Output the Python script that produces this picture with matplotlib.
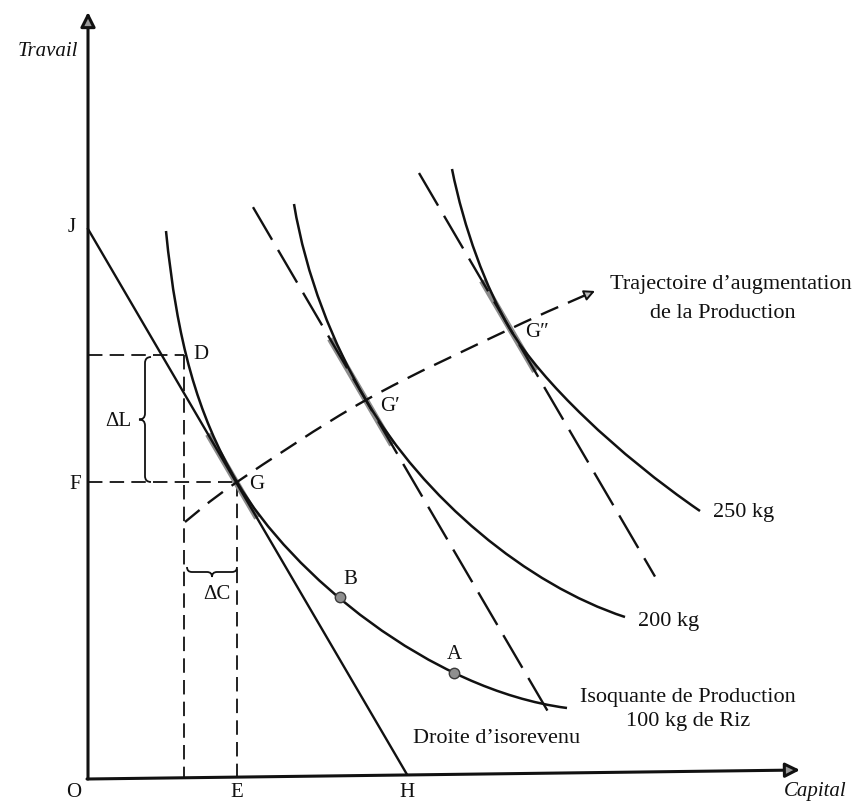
#!/usr/bin/env python3
"""
Isoquantes de production et droites d'isorevenu (schéma de manuel)
"""

import numpy as np
import matplotlib
matplotlib.use('Agg')
import matplotlib.pyplot as plt
from matplotlib.path import Path
from matplotlib.patches import PathPatch

BLACK = '#111111'
GRAY = '#8c8c8c'
FONT = ['Liberation Serif', 'DejaVu Serif']

# unités : Capital en x, Travail en y (origine O)
# isoquantes : 2 segments de Bézier cubiques (début, contrôle, contrôle,
# point de tangence, contrôle, contrôle, fin), lus sur le schéma
Q100_X = [78, 89, 109, 149, 203, 342, 479]
Q100_Y = [547, 437, 364, 296, 204, 88, 70]
Q200_X = [206, 218, 245, 278, 335, 439, 537]
Q200_Y = [574, 502, 434, 378, 280, 193, 161]
Q250_X = [364, 376, 398, 422, 453, 529, 612]
Q250_Y = [609, 549, 490, 449, 397, 324, 267]

# droites d'isorevenu (pente commune, ordonnée à l'origine, plage en x)
ISOREV_SLOPE = -1.71
ISOREV_ICPT = [549, 853, 1171]
ISOREV_XRANGE = [(0, 319), (165, 462), (331, 567)]
ISOREV_STYLE = ['solid', 'dashed', 'dashed']
# portion grisée autour du point de tangence
TANGENT_XRANGE = [(120, 169), (242, 304), (394, 447)]

# trajectoire d'augmentation de la production
PATH_X = [97, 149, 278, 422, 500]
PATH_Y = [256, 296, 378, 449, 484]
PATH_TIP = (507, 487)

# points de tangence et autres points
G_PT = (149, 296)
D_PT = (96, 423)
POINT_B = (252, 181)
POINT_A = (366, 105)

AXIS_X_END = (712, 8)
AXIS_Y_END = (0, 766)


def bezier_path(xs, ys):
    """Suite de segments de Bézier cubiques"""
    verts = np.column_stack([xs, ys]).astype(float)
    codes = [Path.MOVETO] + [Path.CURVE4] * (len(verts) - 1)
    return Path(verts, codes)


def smooth_path(xs, ys):
    """Courbe lisse (Catmull-Rom -> Bézier) passant par les points lus"""
    pts = np.column_stack([xs, ys]).astype(float)
    n = len(pts)
    verts = [pts[0]]
    codes = [Path.MOVETO]
    for i in range(n - 1):
        p0 = pts[max(i - 1, 0)]
        p1 = pts[i]
        p2 = pts[i + 1]
        p3 = pts[min(i + 2, n - 1)]
        verts += [p1 + (p2 - p0) / 6, p2 - (p3 - p1) / 6, p2]
        codes += [Path.CURVE4] * 3
    return Path(verts, codes)


def brace(ax, p0, p1, cusp, d=6, lw=1.3):
    """Accolade entre p0 et p1, pointe dans la direction cusp"""
    p0 = np.array(p0, float)
    p1 = np.array(p1, float)
    u = (p1 - p0) / np.linalg.norm(p1 - p0)
    c = np.array(cusp, float)
    pm = (p0 + p1) / 2
    verts = [p0 - c * d,
             p0, p0 + u * d,
             pm - u * d,
             pm, pm + c * d,
             pm, pm + u * d,
             p1 - u * d,
             p1, p1 - c * d]
    codes = [Path.MOVETO,
             Path.CURVE3, Path.CURVE3,
             Path.LINETO,
             Path.CURVE3, Path.CURVE3,
             Path.CURVE3, Path.CURVE3,
             Path.LINETO,
             Path.CURVE3, Path.CURVE3]
    ax.add_patch(PathPatch(Path(verts, codes), fill=False, lw=lw, edgecolor=BLACK))


def label(ax, x, y, s, size=15, **kw):
    ax.text(x, y, s, fontsize=size, family=FONT, color=BLACK,
            ha=kw.pop('ha', 'center'), va=kw.pop('va', 'center'), **kw)


fig = plt.figure(figsize=(8.59, 8.04), dpi=100)
fig.patch.set_facecolor('white')
ax = fig.add_axes([0, 0, 1, 1])
ax.set_xlim(-88, 771)
ax.set_ylim(-25, 779)
ax.axis('off')

# axes
arrow_kw = dict(arrowstyle='-|>', mutation_scale=22, lw=2.2,
                color=BLACK, fc='#9a9a9a', shrinkA=0, shrinkB=0)
ax.annotate('', xy=AXIS_Y_END, xytext=(0, -1), arrowprops=arrow_kw)
ax.annotate('', xy=AXIS_X_END, xytext=(-1, -1), arrowprops=arrow_kw)

# lignes de repère en tirets
guide = dict(color=BLACK, lw=1.3, linestyle=(0, (8, 4)))
ax.plot([0, D_PT[0]], [D_PT[1], D_PT[1]], **guide)
ax.plot([D_PT[0], D_PT[0]], [D_PT[1], 0], **guide)
ax.plot([0, G_PT[0]], [G_PT[1], G_PT[1]], **guide)
ax.plot([G_PT[0], G_PT[0]], [G_PT[1], 0], **guide)

# droites d'isorevenu
for icpt, (x0, x1), style, (t0, t1) in zip(ISOREV_ICPT, ISOREV_XRANGE,
                                          ISOREV_STYLE, TANGENT_XRANGE):
    xs = np.array([x0, x1])
    ls = '-' if style == 'solid' else (0, (16, 5))
    ax.plot(xs, icpt + ISOREV_SLOPE * xs, color=BLACK, lw=1.7, linestyle=ls, zorder=3)
    ts = np.array([t0, t1])
    ax.plot(ts, icpt + ISOREV_SLOPE * ts, color=GRAY, lw=4.5,
            solid_capstyle='butt', zorder=2)

# isoquantes
for xs, ys in [(Q100_X, Q100_Y), (Q200_X, Q200_Y), (Q250_X, Q250_Y)]:
    ax.add_patch(PathPatch(bezier_path(xs, ys), fill=False, lw=1.8,
                           edgecolor=BLACK, zorder=3))

# trajectoire d'augmentation
ax.add_patch(PathPatch(smooth_path(PATH_X, PATH_Y), fill=False, lw=1.7,
                       edgecolor=BLACK, linestyle=(0, (8, 4.5)), zorder=3))
ax.annotate('', xy=PATH_TIP, xytext=(PATH_X[-1], PATH_Y[-1]),
            arrowprops=dict(arrowstyle='-|>', mutation_scale=16, lw=1.4,
                            color=BLACK, fc='#bbbbbb', shrinkA=0, shrinkB=0))

# points A et B
for px, py in [POINT_B, POINT_A]:
    ax.plot(px, py, 'o', ms=7.5, mfc='#8f8f8f', mec='#3a3a3a', mew=1.0, zorder=4)

# accolades ΔL et ΔC
brace(ax, (57, 296), (57, 421), (-1, 0), d=6)
brace(ax, (99, 206), (149, 206), (0, -1), d=5)
label(ax, 30, 357, 'ΔL')
label(ax, 129, 184, 'ΔC')

# lettres
label(ax, -40, 727, 'Travail', style='italic')
label(ax, 727, -13, 'Capital', style='italic')
label(ax, -16, 551, 'J')
label(ax, -13, 294, 'F')
label(ax, -14, -14, 'O')
label(ax, 149, -14, 'E')
label(ax, 319, -14, 'H')
label(ax, 113, 424, 'D')
label(ax, 169, 294, 'G')
label(ax, 262, 199, 'B')
label(ax, 366, 124, 'A')
label(ax, 302, 372, 'G′')
label(ax, 449, 446, 'G″')

# textes
label(ax, 643, 495, 'Trajectoire d’augmentation', size=16)
label(ax, 635, 465, 'de la Production', size=16)
label(ax, 600, 81, 'Isoquante de Production', size=16)
label(ax, 600, 57, '100 kg de Riz', size=16)
label(ax, 409, 40, 'Droite d’isorevenu', size=16)
label(ax, 581, 157, '200 kg', size=16)
label(ax, 656, 267, '250 kg', size=16)

plt.savefig('out.png', dpi=100, facecolor='white')
plt.close()
